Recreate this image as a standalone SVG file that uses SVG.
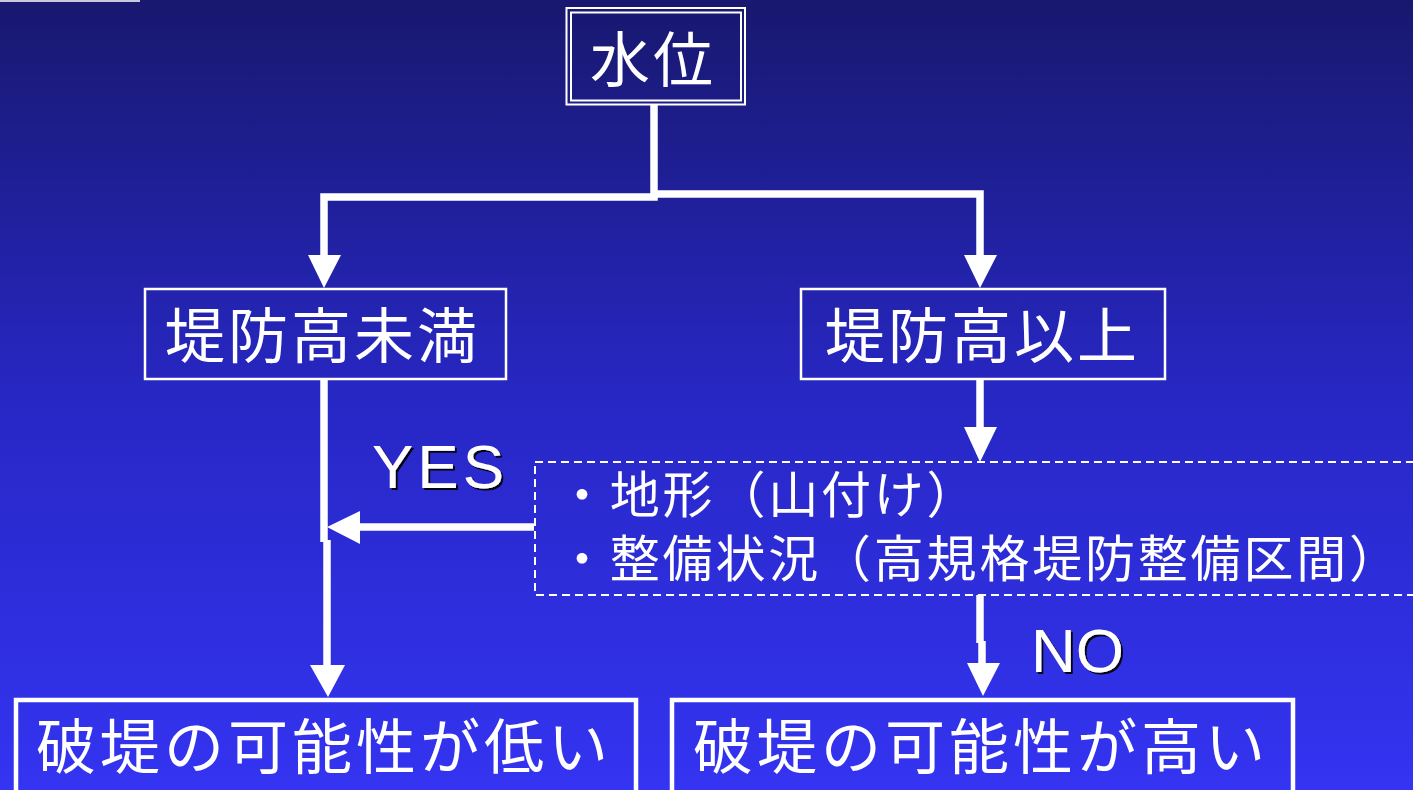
<svg xmlns="http://www.w3.org/2000/svg" width="1413" height="790" viewBox="0 0 1413 790">
  <defs>
    <linearGradient id="bg" x1="0" y1="0" x2="0" y2="1">
      <stop offset="0" stop-color="#18186f"/>
      <stop offset="0.5" stop-color="#2727c4"/>
      <stop offset="1" stop-color="#3434f2"/>
    </linearGradient>
    <filter id="shadow" x="-10%" y="-10%" width="130%" height="130%">
      <feDropShadow dx="2" dy="2" stdDeviation="0.6" flood-color="#000000" flood-opacity="0.9"/>
    </filter>
  </defs>
  <style>
    .box { fill: none; stroke: #ffffff; }
    .thin { stroke-width: 2.5; }
    .thick { stroke-width: 4.5; }
    .jp { font-family: "Noto Sans CJK JP", "Noto Sans", sans-serif; fill: #ffffff; }
    .big { font-size: 60px; letter-spacing: 3px; }
    .mid { font-size: 50px; letter-spacing: 2.8px; }
    .lbl { font-family: "Liberation Sans", Arial, sans-serif; font-size: 62px; fill: #ffffff; filter: url(#shadow); }
    .line { fill: none; stroke: #ffffff; stroke-width: 7.5; }
    .head { fill: #ffffff; }
    .dash { fill: none; stroke: #ffffff; stroke-width: 2; stroke-dasharray: 8 5; }
  </style>
  <rect x="0" y="0" width="1413" height="790" fill="url(#bg)"/>
  <rect x="0" y="0" width="140" height="2" fill="#c8c8dc"/>

  <g id="connectors">
    <path class="line" d="M654,105 V197 H324 V258"/>
    <path class="line" d="M654,194 H980 V258"/>
    <polygon class="head" points="308,255 341,255 324,288"/>
    <polygon class="head" points="964,255 997,255 980,288"/>
    <path class="line" d="M980,380 V430"/>
    <polygon class="head" points="964,427 997,427 980,462"/>
    <path class="line" d="M324,380 V542"/>
    <path class="line" d="M327,540 V668"/>
    <polygon class="head" points="310,665 345,665 328,697"/>
    <path class="line" d="M534,527 H358"/>
    <polygon class="head" points="360,511 360,544 327,527"/>
    <path class="line" d="M980,595 V643"/>
    <path class="line" d="M982,641 V666"/>
    <polygon class="head" points="967,663 1000,663 983,696"/>
  </g>

  <g id="node-suii">
    <rect class="box" x="566.5" y="8" width="178.5" height="96.5" stroke-width="2"/>
    <rect class="box" x="571" y="12.5" width="170" height="88" stroke-width="2"/>
    <text class="jp big" x="590" y="82">水位</text>
  </g>

  <g id="node-miman">
    <rect class="box thin" x="145" y="289" width="361" height="90"/>
    <text class="jp big" x="165" y="358">堤防高未満</text>
  </g>

  <g id="node-ijou">
    <rect class="box thin" x="801" y="289" width="364" height="90"/>
    <text class="jp big" x="825" y="358">堤防高以上</text>
  </g>

  <g id="node-conditions">
    <rect class="dash" x="535" y="462" width="900" height="133"/>
    <text class="jp mid" x="557" y="513"><tspan x="557" y="513">・地形（山付け）</tspan><tspan x="557" y="577">・整備状況（高規格堤防整備区間）</tspan></text>
  </g>

  <g id="label-yes">
    <text class="lbl" x="372" y="488" textLength="132" lengthAdjust="spacing">YES</text>
  </g>
  <g id="label-no">
    <text class="lbl" x="1031" y="672">NO</text>
  </g>

  <g id="node-low">
    <rect class="box thick" x="16" y="700" width="620" height="110"/>
    <text class="jp big" x="36" y="769" style="letter-spacing:4px">破堤の可能性が低い</text>
  </g>

  <g id="node-high">
    <rect class="box thick" x="672" y="700" width="621" height="110"/>
    <text class="jp big" x="693" y="769" style="letter-spacing:4px">破堤の可能性が高い</text>
  </g>
</svg>
